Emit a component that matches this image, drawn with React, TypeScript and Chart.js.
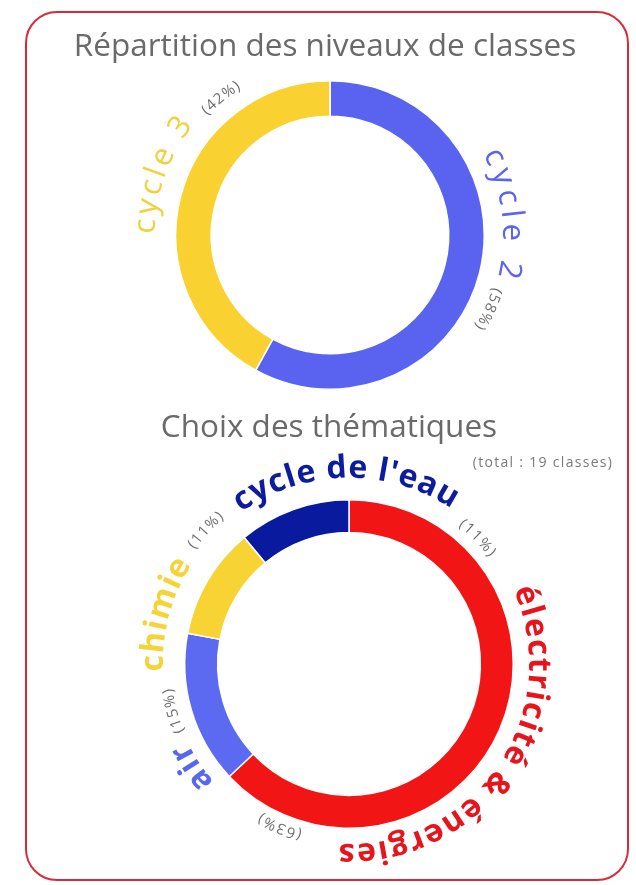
import React, { useEffect, useRef } from 'react';
import { Chart, registerables } from 'chart.js';
Chart.register(...registerables);

// ---- data ----
const levelTitle = 'Répartition des niveaux de classes';
const levelLabels = ['cycle 2', 'cycle 3'];
const levelValues = [58, 42];
const levelPercents = ['(58%)', '(42%)'];

const themeTitle = 'Choix des thématiques';
const themeSubtitle = '(total : 19 classes)';
const themeLabels = ['électricité & énergies', 'air', 'chimie', "cycle de l'eau"];
const themeValues = [63, 15, 11, 11];
const themePercents = ['(63%)', '(15%)', '(11%)', '(11%)'];

// ---- styles ----
const levelColors = ['#5a63f0', '#f9d232'];
const levelTextColors = ['#5a64ee', '#f1d03e'];
const themeColors = ['#f21515', '#5b6af0', '#f8d334', '#0a1a9e'];
const themeTextColors = ['#e8141c', '#5868ee', '#f5d43a', '#0c1c9c'];
const FONT = '"Open Sans", "Segoe UI", sans-serif';

// label layout: [centre angle (deg, clockwise from top), baseline offset from outer radius, letter spacing]
const levelLabelLayout = [[83, 19, 5], [289.5, 21, 3.5]];
const levelPctLayout = [[115, 17, 1.2], [321.5, 17, 1.2]];
const themeLabelLayout = [[124.5, 16, 1.5], [236.5, 15, 2], [285, 22, 1], [359, 22, 0.8]];
const themePctLayout = [[203, 9, 1.5], [255, 14, 1.5], [313, 28, 1.2], [45.5, 12, 1.5]];

function drawArcText(ctx: CanvasRenderingContext2D, text: string, cx: number, cy: number, r: number,
  centerDeg: number, font: string, color: string, spacing: number) {
  ctx.save();
  ctx.font = font;
  ctx.fillStyle = color;
  ctx.textAlign = 'center';
  ctx.textBaseline = 'alphabetic';
  const chars = Array.from(text);
  const widths = chars.map((c) => ctx.measureText(c).width);
  const total = widths.reduce((a, b) => a + b, 0) + spacing * (chars.length - 1);
  let a = (centerDeg * Math.PI) / 180 - total / 2 / r;
  chars.forEach((ch, i) => {
    const w = widths[i];
    const mid = a + w / 2 / r;
    ctx.save();
    ctx.translate(cx + r * Math.sin(mid), cy - r * Math.cos(mid));
    ctx.rotate(mid);
    ctx.fillText(ch, 0, 0);
    ctx.restore();
    a += (w + spacing) / r;
  });
  ctx.restore();
}

function makePlugin(opts: {
  title: string; titleX: number; titleY: number;
  subtitle?: string; subX?: number; subY?: number;
  labels: string[]; pcts: string[]; textColors: string[];
  labelLayout: number[][]; pctLayout: number[][]; labelFont: string; pctFont: string;
}) {
  return {
    id: 'arcLabels',
    afterDraw(chart: any) {
      const ctx: CanvasRenderingContext2D = chart.ctx;
      ctx.save();
      ctx.font = `31.5px ${FONT}`;
      ctx.fillStyle = '#6a6a6a';
      ctx.textAlign = 'center';
      ctx.textBaseline = 'middle';
      ctx.fillText(opts.title, opts.titleX, opts.titleY);
      if (opts.subtitle) {
        ctx.font = `14px ${FONT}`;
        ctx.fillStyle = '#7a7a7a';
        (ctx as any).letterSpacing = '1.3px';
        ctx.fillText(opts.subtitle, opts.subX!, opts.subY!);
        (ctx as any).letterSpacing = '0px';
      }
      ctx.restore();
      const arcs = chart.getDatasetMeta(0).data;
      const cx = arcs[0].x;
      const cy = arcs[0].y;
      const R = arcs[0].outerRadius;
      opts.labels.forEach((lab, i) => {
        const [ang, off, sp] = opts.labelLayout[i];
        drawArcText(ctx, lab, cx, cy, R + off, ang, opts.labelFont, opts.textColors[i], sp);
        const [pa, po, ps] = opts.pctLayout[i];
        drawArcText(ctx, opts.pcts[i], cx, cy, R + po, pa, opts.pctFont, '#6e6e6e', ps);
      });
    },
  };
}

export default function App() {
  const c1 = useRef<HTMLCanvasElement>(null);
  const c2 = useRef<HTMLCanvasElement>(null);

  useEffect(() => {
    const chart1 = new Chart(c1.current!, {
      type: 'doughnut',
      data: {
        labels: levelLabels,
        datasets: [{
          data: levelValues,
          backgroundColor: levelColors,
          borderColor: '#ffffff',
          borderWidth: 1.5,
        }],
      },
      options: {
        responsive: false,
        maintainAspectRatio: false,
        animation: false,
        cutout: '77%',
        layout: { padding: { left: 175, right: 151, top: 80, bottom: 10 } },
        plugins: { legend: { display: false }, tooltip: { enabled: false } },
      },
      plugins: [makePlugin({
        title: levelTitle, titleX: 325, titleY: 47,
        labels: levelLabels, pcts: levelPercents, textColors: levelTextColors,
        labelLayout: levelLabelLayout, pctLayout: levelPctLayout,
        labelFont: `31px ${FONT}`, pctFont: `15px ${FONT}`,
      })],
    });
    const chart2 = new Chart(c2.current!, {
      type: 'doughnut',
      data: {
        labels: themeLabels,
        datasets: [{
          data: themeValues,
          backgroundColor: themeColors,
          borderColor: '#ffffff',
          borderWidth: 1.5,
        }],
      },
      options: {
        responsive: false,
        maintainAspectRatio: false,
        animation: false,
        cutout: '80%',
        layout: { padding: { left: 184, right: 122, top: 99, bottom: 56 } },
        plugins: { legend: { display: false }, tooltip: { enabled: false } },
      },
      plugins: [makePlugin({
        title: themeTitle, titleX: 329, titleY: 28,
        subtitle: themeSubtitle, subX: 543, subY: 63,
        labels: themeLabels, pcts: themePercents, textColors: themeTextColors,
        labelLayout: themeLabelLayout, pctLayout: themePctLayout,
        labelFont: `bold 32px ${FONT}`, pctFont: `15px ${FONT}`,
      })],
    });
    return () => { chart1.destroy(); chart2.destroy(); };
  }, []);

  return (
    <div style={{ position: 'absolute', left: 0, top: 0, width: 636, height: 885, background: '#fff', overflow: 'hidden' }}>
      <div style={{
        position: 'absolute', left: 25, top: 11, width: 604, height: 870,
        border: '2.5px solid #d62c3a', borderRadius: 32, boxSizing: 'border-box',
      }} />
      <canvas ref={c1} width={636} height={400} style={{ position: 'absolute', left: 0, top: 0, width: 636, height: 400 }} />
      <canvas ref={c2} width={636} height={485} style={{ position: 'absolute', left: 0, top: 400, width: 636, height: 485 }} />
    </div>
  );
}
